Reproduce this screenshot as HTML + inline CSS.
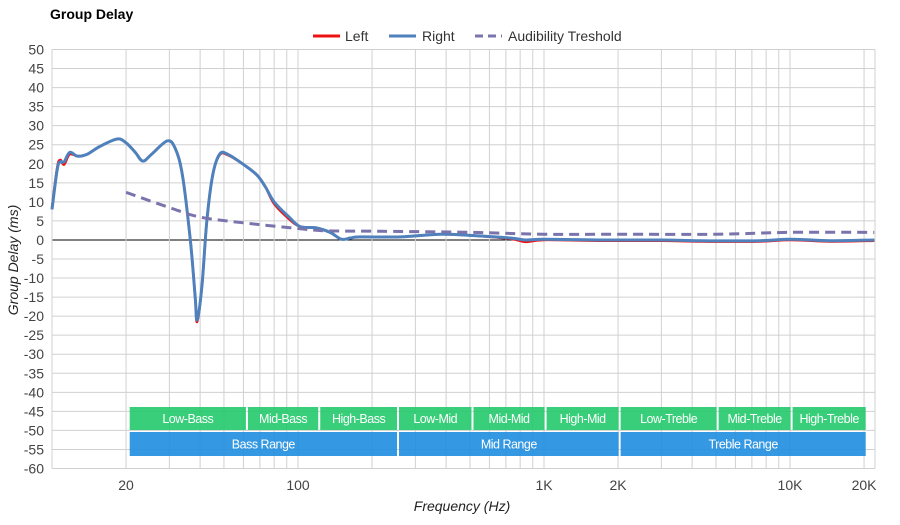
<!DOCTYPE html>
<html><head><meta charset="utf-8">
<style>
body{margin:0;background:#fff;font-family:"Liberation Sans",sans-serif;}
svg text{font-family:"Liberation Sans",sans-serif;}
</style></head>
<body>
<svg id="c" width="900" height="520" xmlns="http://www.w3.org/2000/svg">
<text x="50" y="19" font-size="14" font-weight="bold" fill="#000">Group Delay</text>
<g>
<g><line x1="313" y1="36" x2="340" y2="36" stroke="#ee1111" stroke-width="3"/><text x="345" y="41" font-size="14" fill="#333">Left</text></g>
<g><line x1="389" y1="36" x2="416" y2="36" stroke="#4f81bd" stroke-width="3"/><text x="422" y="41" font-size="14" fill="#333">Right</text></g>
<g><line x1="475" y1="36" x2="502" y2="36" stroke="#7a74ac" stroke-width="3" stroke-dasharray="8,5"/><text x="508" y="41" font-size="14" fill="#333">Audibility Treshold</text></g>
</g>
<g id="grid"></g>
<g id="bands"></g>
<g id="series"></g>
<text transform="translate(18,260) rotate(-90)" text-anchor="middle" font-size="14" font-style="italic" fill="#222">Group Delay (ms)</text>
<text x="462" y="511" text-anchor="middle" font-size="14" font-style="italic" fill="#222">Frequency (Hz)</text>
</svg>
<script>
const freqs=[10,10.5,10.8,11.2,11.8,12.7,13.9,15.6,18.4,20,21.8,23.4,25.4,29.4,31.7,33.9,36.5,38.2,38.9,40.7,42.6,45,48,51.8,61,68.2,73.6,80,92,102,118,135,150,163,179,260,380,500,730,840,1000,1670,3000,4350,7500,10000,14600,22000];
const rightVals=[8,18.5,20.5,20.5,23,22,22.5,24.5,26.5,25.5,23,20.7,22.5,26,24,17,0,-15,-21,-12,5,17,22.5,22.5,19.5,17,14,10,6,3.5,3.2,2,0.2,0.5,0.8,0.8,1.5,1.2,0.5,0,0.2,0,0,-0.2,-0.2,0.2,-0.2,0];
const leftVals=[8.5,19,21,19.8,22.5,22,22.5,24.5,26.5,25.5,23,20.7,22.5,26,24,17,0,-15,-21.5,-12,5,17,22.3,22.3,19.5,17,14,9.5,5.5,3.5,3.2,2,0.2,0.5,0.8,0.8,1.5,1.2,0.3,-0.5,0,-0.2,-0.2,-0.4,-0.4,0,-0.4,-0.2];
const thrFreqs=[20,30,40,60,100,130,200,500,1000,2000,5000,10000,22000];
const thrVals=[12.5,8.5,6,4.5,3,2.4,2.3,2,1.5,1.5,1.5,2,2];
const yTicks=[50,45,40,35,30,25,20,15,10,5,0,-5,-10,-15,-20,-25,-30,-35,-40,-45,-50,-55,-60];
const xTickVals=[20,100,1000,2000,10000,20000];
const xTickLabels=["20","100","1K","2K","10K","20K"];
const bandNames=["Low-Bass","Mid-Bass","High-Bass","Low-Mid","Mid-Mid","High-Mid","Low-Treble","Mid-Treble","High-Treble"];
const bandEdges=[20.5,62,122,255,512,1015,2030,5080,10150,20500];
const rangeNames=["Bass Range","Mid Range","Treble Range"];
const rangeEdges=[20.5,255,2030,20500];

const X0=52,X1=875,Y0=49.5,Y1=468.5;
const x=f=>298+246*(Math.log10(f)-2);
const y=v=>Y0+(50-v)*(Y1-Y0)/110;
const NS="http://www.w3.org/2000/svg";
function mk(p,t,a){const e=document.createElementNS(NS,t);for(const k in a)e.setAttribute(k,a[k]);p.appendChild(e);return e;}
const grid=document.getElementById('grid');
yTicks.forEach(v=>{
 const l=mk(grid,'line',{x1:X0,x2:X1,y1:y(v),y2:y(v),stroke:v===0?'#000':'#d0d0d0','stroke-width':1});
 
 
 const t=mk(grid,'text',{x:44,y:y(v)+5,'text-anchor':'end','font-size':14,fill:'#444'});
 t.textContent=v;
 
 
});
for(let d=10;d<=10000;d*=10){for(let m=1;m<10;m++){const f=d*m;if(f>22000)break;if(f===10)continue;
 const l=mk(grid,'line',{x1:x(f),x2:x(f),y1:Y0,y2:Y1,stroke:'#d0d0d0','stroke-width':1});
 
 }}
const lb=mk(grid,'line',{x1:X0,x2:X0,y1:Y0,y2:Y1,stroke:'#d0d0d0'});


const rb=mk(grid,'line',{x1:X1,x2:X1,y1:Y0,y2:Y1,stroke:'#d0d0d0'});


xTickVals.forEach((f,i)=>{
 const t=mk(grid,'text',{x:x(f),y:490,'text-anchor':'middle','font-size':14,fill:'#444'});
 t.textContent=xTickLabels[i];
 
 
});
const bands=document.getElementById('bands');
function band(edges,names,top,h,color,nm){
 names.forEach((n,i)=>{
  const a=x(edges[i])+1,b=x(edges[i+1])-1;
  const r=mk(bands,'rect',{x:a,y:top,width:b-a,height:h,fill:color,'fill-opacity':0.9});
  
  
  const t=mk(bands,'text',{x:(a+b)/2,y:top+h/2+4.5,'text-anchor':'middle','font-size':12.5,fill:'#fff','letter-spacing':'-0.5'});
  t.textContent=n;
  
  
 });
}
band(bandEdges,bandNames,407,23,'#22c96c','band');
band(rangeEdges,rangeNames,432,24,'#1f8ddf','range');
function path(fs,vs){
 const p=fs.map((f,i)=>[x(f),y(vs[i])]);
 let d='M'+p[0][0]+','+p[0][1];
 for(let i=0;i<p.length-1;i++){
  const p0=p[Math.max(0,i-1)],p1=p[i],p2=p[i+1],p3=p[Math.min(p.length-1,i+2)];
  const c1=[p1[0]+(p2[0]-p0[0])/6,p1[1]+(p2[1]-p0[1])/6],c2=[p2[0]-(p3[0]-p1[0])/6,p2[1]-(p3[1]-p1[1])/6];
  d+=` C${c1[0]},${c1[1]} ${c2[0]},${c2[1]} ${p2[0]},${p2[1]}`;
 }
 return d;
}
const s=document.getElementById('series');
const pl=mk(s,'path',{d:path(freqs,leftVals),fill:'none',stroke:'#ee1111','stroke-width':2.5});


const pr=mk(s,'path',{d:path(freqs,rightVals),fill:'none',stroke:'#4f81bd','stroke-width':3});


const pt=mk(s,'path',{d:path(thrFreqs,thrVals),fill:'none',stroke:'#7a74ac','stroke-width':3,'stroke-dasharray':'10,6'});


</script>
</body></html>
